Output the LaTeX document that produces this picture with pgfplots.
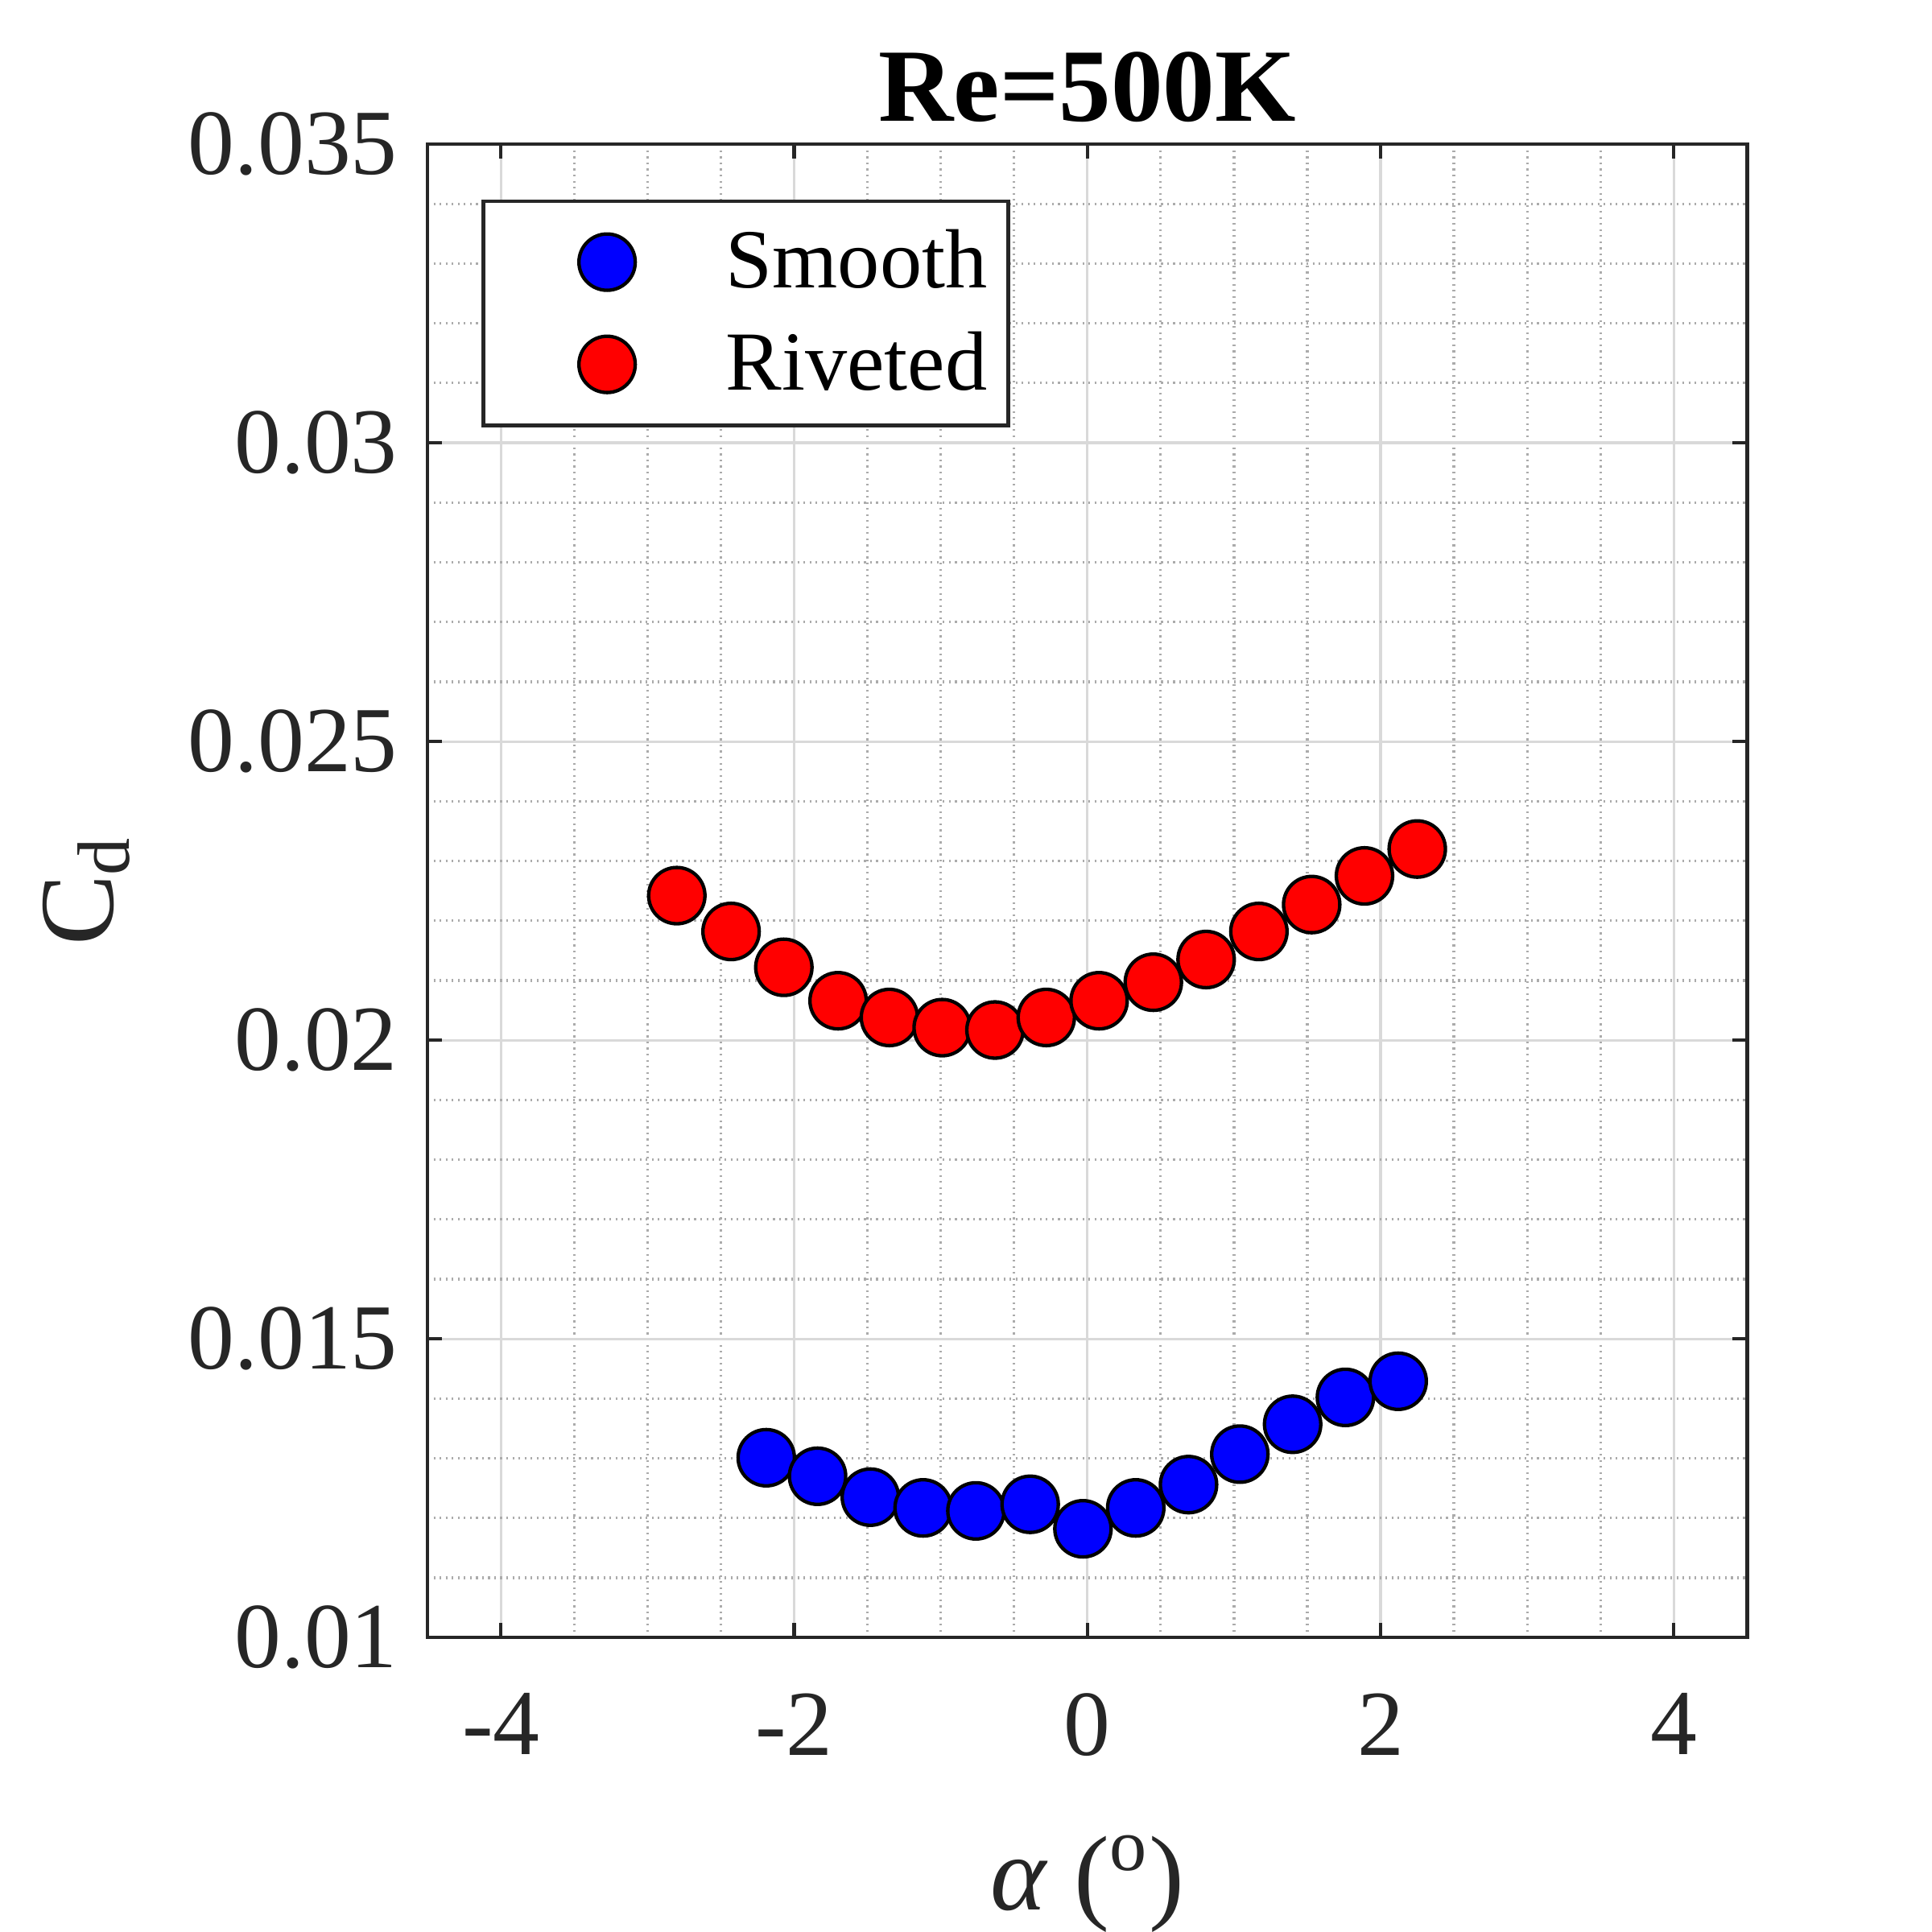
\documentclass[border=0pt]{standalone}
\usepackage{fontspec}
\setmainfont{Liberation Serif}
\usepackage{pgfplots}
\pgfplotsset{compat=1.18}
\definecolor{axgray}{RGB}{38,38,38}
\definecolor{mblue}{RGB}{0,0,255}
\definecolor{mred}{RGB}{255,0,0}
\begin{document}
\begin{tikzpicture}
\path[use as bounding box] (-3.47cm,-2.39cm) rectangle (12.21cm,13.29cm);
\begin{axis}[
  at={(0,0)}, anchor=south west,
  scale only axis, width=10.71cm, height=12.12cm,
  xmin=-4.5, xmax=4.5, ymin=0.01, ymax=0.035,
  xtick={-4,-2,0,2,4},
  ytick={0.01,0.015,0.02,0.025,0.03,0.035},
  minor x tick num=3, minor y tick num=4,
  grid=both,
  major grid style={solid, color=black!15, line width=0.6pt},
  minor grid style={densely dotted, color=black!33, line width=0.6pt},
  minor tick length=0pt, major tick length=0.12cm,
  tick align=inside,
  tick style={axgray, line width=0.8pt},
  axis line style={axgray, line width=0.8pt},
  /pgf/number format/assume math mode=true,
  ticklabel style={font=\fontsize{21.5}{25}\selectfont, text=axgray},
  xticklabel style={yshift=-0.33cm},
  yticklabel style={/pgf/number format/fixed, /pgf/number format/precision=3, xshift=-0.12cm},
  scaled y ticks=false,
  title={Re=500K},
  title style={at={(axis description cs:0.5,1)}, anchor=center, yshift=0.25cm, font=\bfseries\fontsize{24}{28}\selectfont},
  xlabel={\textit{α} (\textsuperscript{o})},
  xlabel style={at={(axis description cs:0.5,0)}, anchor=center, yshift=-2.0cm, font=\fontsize{24.5}{28}\selectfont, text=axgray},
  ylabel={C\textsubscript{d}},
  ylabel style={at={(axis description cs:-0.2586,0.5)}, anchor=center, font=\fontsize{24.5}{28}\selectfont, text=axgray},
  legend style={at={(0.041,0.963)}, anchor=north west, draw=axgray, line width=0.8pt, fill=white,
    font=\fontsize{19.4}{22}\selectfont, inner xsep=0.17cm, inner ysep=0.08cm,
    row sep=0pt, column sep=0.73cm, nodes={inner sep=0pt, minimum height=0.83cm}},
  legend cell align=left,
  legend image code/.code={\path (-0.82cm,0) (0.22cm,0); \draw[#1] plot coordinates {(0cm,0cm)};},
]
\addplot[only marks, mark=*, mark size=6.5pt, mark options={fill=mblue, draw=black, line width=0.8pt}]
coordinates {
(-2.19,0.01301) (-1.84,0.01270) (-1.48,0.01235) (-1.12,0.01217) (-0.76,0.01212)
(-0.39,0.01223) (-0.03,0.01182) (0.33,0.01217) (0.69,0.01256) (1.04,0.01307)
(1.40,0.01357) (1.76,0.01402) (2.12,0.01429)
};
\addlegendentry{Smooth}
\addplot[only marks, mark=*, mark size=6.5pt, mark options={fill=mred, draw=black, line width=0.8pt}]
coordinates {
(-2.80,0.02242) (-2.43,0.02182) (-2.07,0.02122) (-1.70,0.02066) (-1.35,0.02038)
(-0.99,0.02021) (-0.63,0.02017) (-0.28,0.02038) (0.08,0.02066) (0.45,0.02097)
(0.81,0.02135) (1.17,0.02182) (1.53,0.02227) (1.89,0.02275) (2.25,0.02320)
};
\addlegendentry{Riveted}
\end{axis}
\end{tikzpicture}
\end{document}
